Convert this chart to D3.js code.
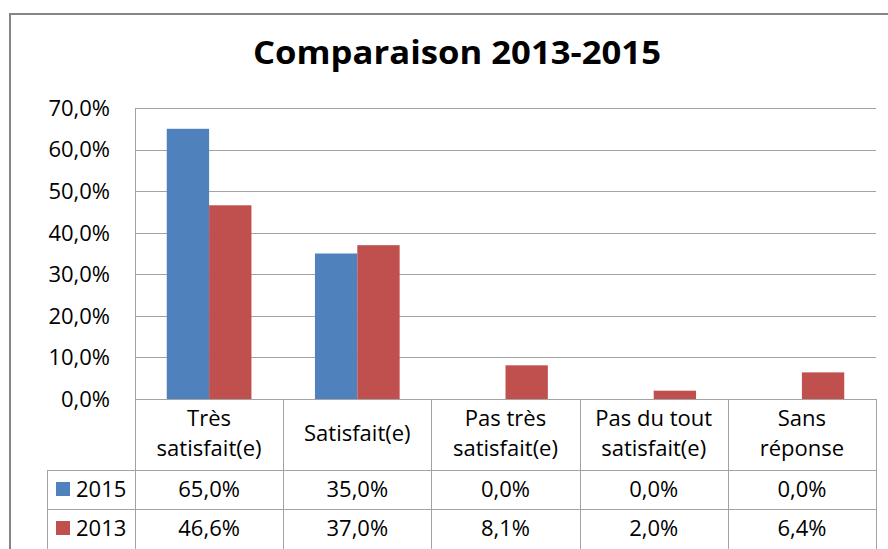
<!DOCTYPE html>
<html>
<head>
<meta charset="utf-8">
<script src="https://cdn.jsdelivr.net/npm/d3@7"></script>
<style>
  body { margin: 0; background: #fff; }
  svg { display: block; }
  text { font-family: "Open Sans", sans-serif; fill: #000; }
</style>
</head>
<body>
<svg id="chart" width="888" height="549"></svg>
<script>
// Data
const categories = [["Très", "satisfait(e)"], ["Satisfait(e)"], ["Pas très", "satisfait(e)"], ["Pas du tout", "satisfait(e)"], ["Sans", "réponse"]];
const seriesNames = ["2015", "2013"];
const values2015 = [65.0, 35.0, 0.0, 0.0, 0.0];
const values2013 = [46.6, 37.0, 8.1, 2.0, 6.4];
const yTicks = [0, 10, 20, 30, 40, 50, 60, 70];
const colors = ["#4f81bd", "#c0504d"];

const fmt = v => v.toFixed(1).replace(".", ",") + "%";

let svg = d3.select("#chart");
let plot = {l: 135, r: 876, t: 108, b: 399};
let gridColor = "#a3a3a3";
let tableColor = "#a3a3a3";

// outer chart border (cropped on right and bottom)
svg.append("rect")
    .attr("x", 10).attr("y", 14)
    .attr("width", 900).attr("height", 600)
    .attr("fill", "none")
    .attr("stroke", "#868686")
    .attr("stroke-width", 2);

// title
svg.append("text")
    .attr("x", 457).attr("y", 64)
    .attr("text-anchor", "middle")
    .attr("font-size", 32)
    .attr("font-weight", "bold")
    .attr("textLength", 408)
    .attr("lengthAdjust", "spacingAndGlyphs")
    .text("Comparaison 2013-2015");

let x = d3.scaleBand()
    .domain(d3.range(categories.length))
    .range([plot.l, plot.r])
    .padding(0);

let xs = d3.scaleBand()
    .domain(seriesNames)
    .range([0, x.bandwidth()])
    .paddingInner(0)
    .paddingOuter(0.75);

let y = d3.scaleLinear()
    .domain([0, 70])
    .range([plot.b, plot.t]);

// gridlines
svg.append("g").selectAll("line")
    .data(yTicks.filter(d => d > 0))
    .enter().append("line")
    .attr("x1", plot.l).attr("x2", plot.r)
    .attr("y1", d => Math.round(y(d)) + 0.5)
    .attr("y2", d => Math.round(y(d)) + 0.5)
    .attr("stroke", gridColor);

// y axis labels
svg.append("g").selectAll("text")
    .data(yTicks)
    .enter().append("text")
    .attr("x", 110)
    .attr("y", d => y(d))
    .attr("dy", "0.36em")
    .attr("text-anchor", "end")
    .attr("font-size", 22)
    .text(d => fmt(d));

// bars
let seriesData = [values2015, values2013];
let groups = svg.append("g").selectAll(".series")
    .data(seriesData)
    .enter().append("g")
    .attr("class", "series")
    .attr("fill", (d, i) => colors[i]);

groups.selectAll("rect")
    .data((d, i) => d.map((v, j) => ({v: v, j: j, s: seriesNames[i]})))
    .enter().append("rect")
    .attr("x", d => x(d.j) + xs(d.s))
    .attr("width", xs.bandwidth())
    .attr("y", d => y(d.v))
    .attr("height", d => y(0) - y(d.v));

// left axis line
svg.append("line")
    .attr("x1", plot.l + 0.5).attr("x2", plot.l + 0.5)
    .attr("y1", plot.t).attr("y2", plot.b)
    .attr("stroke", gridColor);

// data table
let rowTop = [399, 470, 509, 549];
let legendLeft = 47;
let table = svg.append("g").attr("stroke", tableColor).attr("fill", "none");

// horizontal lines
table.append("line")
    .attr("x1", plot.l).attr("x2", plot.r)
    .attr("y1", rowTop[0] + 0.5).attr("y2", rowTop[0] + 0.5);
[rowTop[1], rowTop[2]].forEach(yy => {
    table.append("line")
        .attr("x1", legendLeft).attr("x2", plot.r)
        .attr("y1", yy + 0.5).attr("y2", yy + 0.5);
});
// vertical lines
d3.range(categories.length + 1).forEach(i => {
    let xx = i < categories.length ? x(i) : plot.r;
    table.append("line")
        .attr("x1", Math.round(xx) + 0.5).attr("x2", Math.round(xx) + 0.5)
        .attr("y1", rowTop[0]).attr("y2", 549);
});
table.append("line")
    .attr("x1", legendLeft + 0.5).attr("x2", legendLeft + 0.5)
    .attr("y1", rowTop[1]).attr("y2", 549);

// header labels
categories.forEach((lines, i) => {
    let cx = x(i) + x.bandwidth() / 2;
    let baselines = lines.length === 2 ? [426, 456] : [441];
    lines.forEach((ln, k) => {
        svg.append("text")
            .attr("x", cx).attr("y", baselines[k])
            .attr("text-anchor", "middle")
            .attr("font-size", 22)
            .text(ln);
    });
});

// value rows
let rowBase = [497, 536];
seriesData.forEach((vals, s) => {
    let ry = rowTop[s + 1];
    svg.append("rect")
        .attr("x", 56).attr("y", ry + 12)
        .attr("width", 14).attr("height", 14)
        .attr("fill", colors[s]);
    svg.append("text")
        .attr("x", 76).attr("y", rowBase[s])
        .attr("font-size", 22)
        .text(seriesNames[s]);
    vals.forEach((v, j) => {
        svg.append("text")
            .attr("x", x(j) + x.bandwidth() / 2).attr("y", rowBase[s])
            .attr("text-anchor", "middle")
            .attr("font-size", 22)
            .text(fmt(v));
    });
});
</script>
</body>
</html>
